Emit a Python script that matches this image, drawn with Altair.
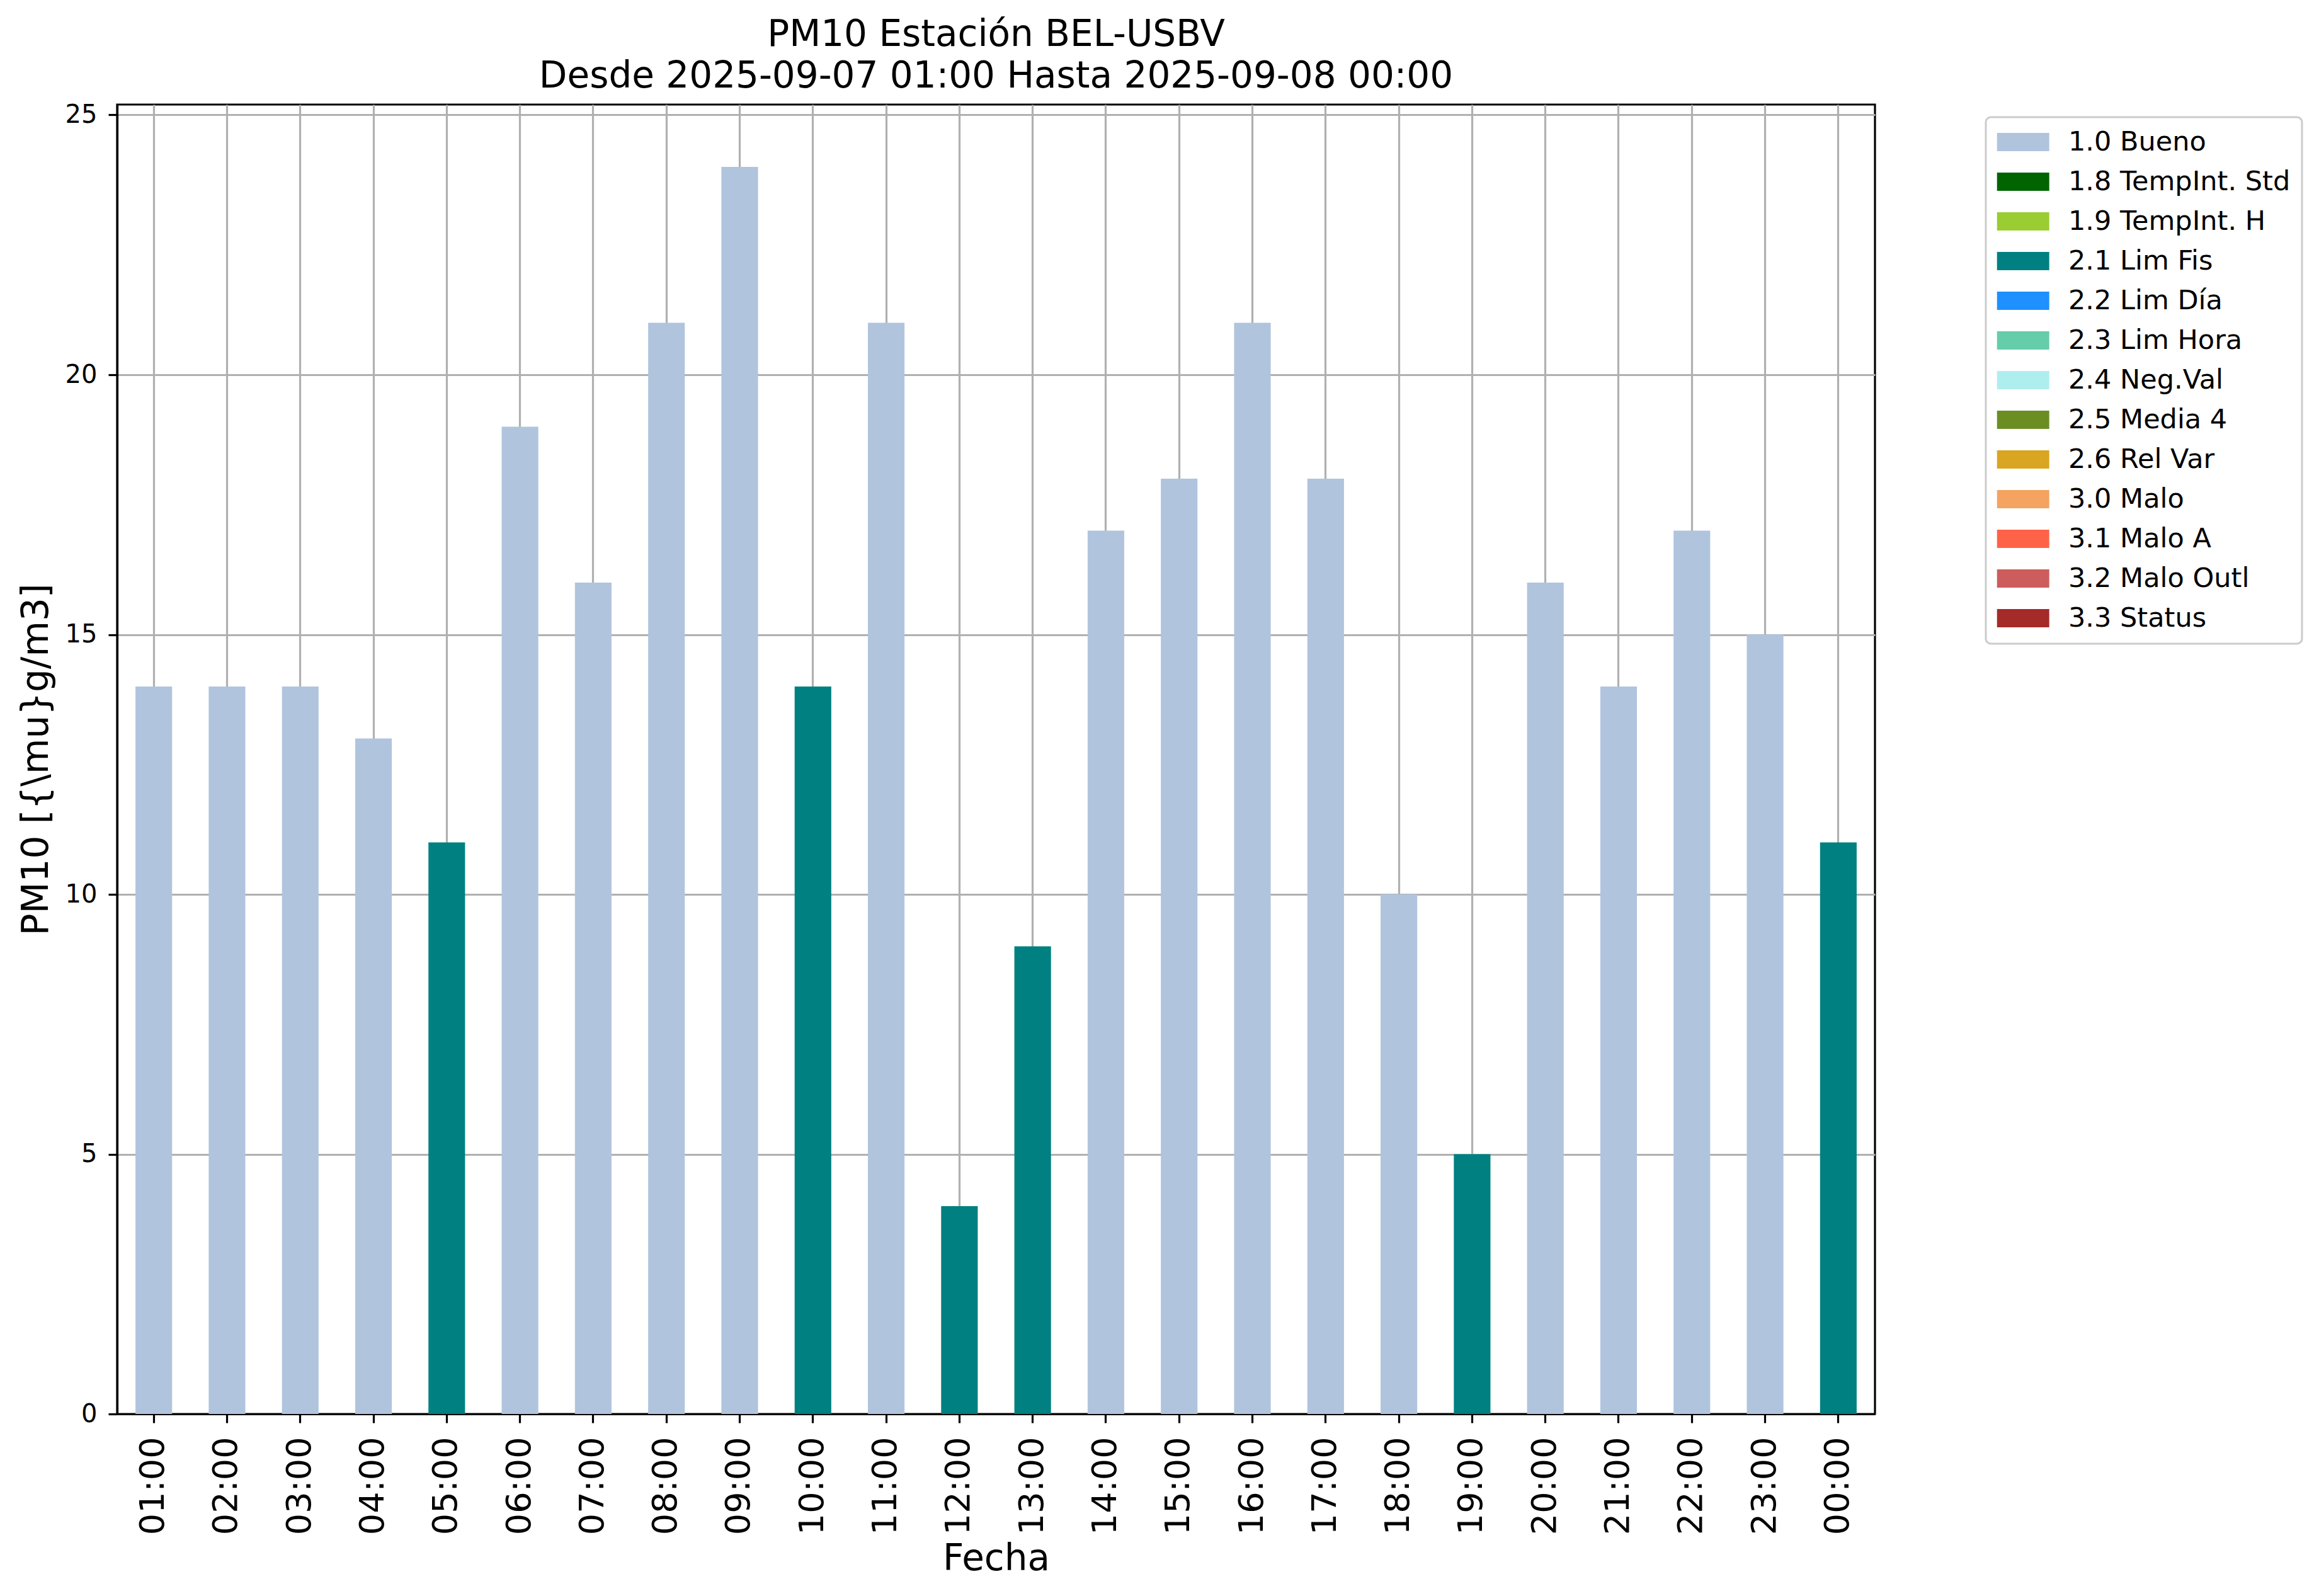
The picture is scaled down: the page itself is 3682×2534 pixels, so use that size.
import altair as alt
import pandas as pd

hours = ["01:00", "02:00", "03:00", "04:00", "05:00", "06:00", "07:00", "08:00",
         "09:00", "10:00", "11:00", "12:00", "13:00", "14:00", "15:00", "16:00",
         "17:00", "18:00", "19:00", "20:00", "21:00", "22:00", "23:00", "00:00"]
values = [14, 14, 14, 13, 11, 19, 16, 21, 24, 14, 21, 4, 9, 17, 18, 21, 18, 10, 5, 16, 14, 17, 15, 11]
flags = ["1.0 Bueno", "1.0 Bueno", "1.0 Bueno", "1.0 Bueno", "2.1 Lim Fis", "1.0 Bueno",
         "1.0 Bueno", "1.0 Bueno", "1.0 Bueno", "2.1 Lim Fis", "1.0 Bueno", "2.1 Lim Fis",
         "2.1 Lim Fis", "1.0 Bueno", "1.0 Bueno", "1.0 Bueno", "1.0 Bueno", "1.0 Bueno",
         "2.1 Lim Fis", "1.0 Bueno", "1.0 Bueno", "1.0 Bueno", "1.0 Bueno", "2.1 Lim Fis"]

categories = ["1.0 Bueno", "1.8 TempInt. Std", "1.9 TempInt. H", "2.1 Lim Fis", "2.2 Lim Día",
              "2.3 Lim Hora", "2.4 Neg.Val", "2.5 Media 4", "2.6 Rel Var", "3.0 Malo",
              "3.1 Malo A", "3.2 Malo Outl", "3.3 Status"]
colors = ["#B0C4DE", "#006400", "#9ACD32", "#008080", "#1E90FF", "#66CDAA", "#AFEEEE",
          "#6B8E23", "#DAA520", "#F4A460", "#FF6347", "#CD5C5C", "#A52A2A"]
y_ticks = [0, 5, 10, 15, 20, 25]

df = pd.DataFrame({"hora": hours, "valor": values, "flag": flags})

FONT = "DejaVu Sans"
W, H = 2791, 2079

chart = alt.Chart(df).mark_bar().encode(
    x=alt.X("hora:N", sort=hours,
            scale=alt.Scale(paddingInner=0.5, paddingOuter=0.25),
            axis=alt.Axis(title="Fecha", bandPosition=0.5, labelAngle=270,
                          labelFontSize=54, labelPadding=22, tickSize=14,
                          titleFontSize=58, titleY=247, titleX=W / 2,
                          titleBaseline="alphabetic", titleAlign="center")),
    y=alt.Y("valor:Q", scale=alt.Scale(domain=[0, 25.2], nice=False),
            axis=alt.Axis(title="PM10 [{\\mu}g/m3]", values=y_ticks, labelFontSize=40,
                          labelPadding=18, tickSize=14, titleFontSize=58,
                          titleAngle=270, titleX=-111, titleY=H / 2,
                          titleBaseline="alphabetic", titleAlign="center")),
    color=alt.Color("flag:N", scale=alt.Scale(domain=categories, range=colors),
                    legend=alt.Legend(title=None, orient="none", legendX=2967, legendY=20,
                                      symbolType="M-1.5,-1H4.22V1H-1.5Z", symbolSize=841,
                                      symbolStrokeWidth=0, symbolOpacity=1,
                                      labelFontSize=43, labelOffset=70, labelLimit=1000,
                                      rowPadding=19, padding=18,
                                      strokeColor="#cccccc", cornerRadius=8)),
).properties(
    width=W, height=H,
    title=alt.Title(["PM10 Estación BEL-USBV", "Desde 2025-09-07 01:00 Hasta 2025-09-08 00:00"],
                    fontSize=58, font=FONT, fontWeight="normal", lineHeight=66,
                    anchor="middle", frame="group", baseline="bottom", offset=-46),
    autosize=alt.AutoSizeParams(type="none"),
    padding={"left": 178, "top": 158, "right": 690, "bottom": 270},
).configure(
    font=FONT, background="white"
).configure_view(
    stroke="black", strokeWidth=3.2
).configure_axis(
    labelFont=FONT, titleFont=FONT, titleFontWeight="normal", labelColor="black",
    titleColor="black", domainColor="black", domainWidth=3.2, tickColor="black",
    tickWidth=3.2, gridColor="#b0b0b0", gridWidth=3.2, gridOpacity=1, grid=True,
    zindex=1
).configure_legend(
    labelFont=FONT, labelColor="black", strokeWidth=3
)

chart.save("out.html", embed_options={"renderer": "svg", "actions": False})
